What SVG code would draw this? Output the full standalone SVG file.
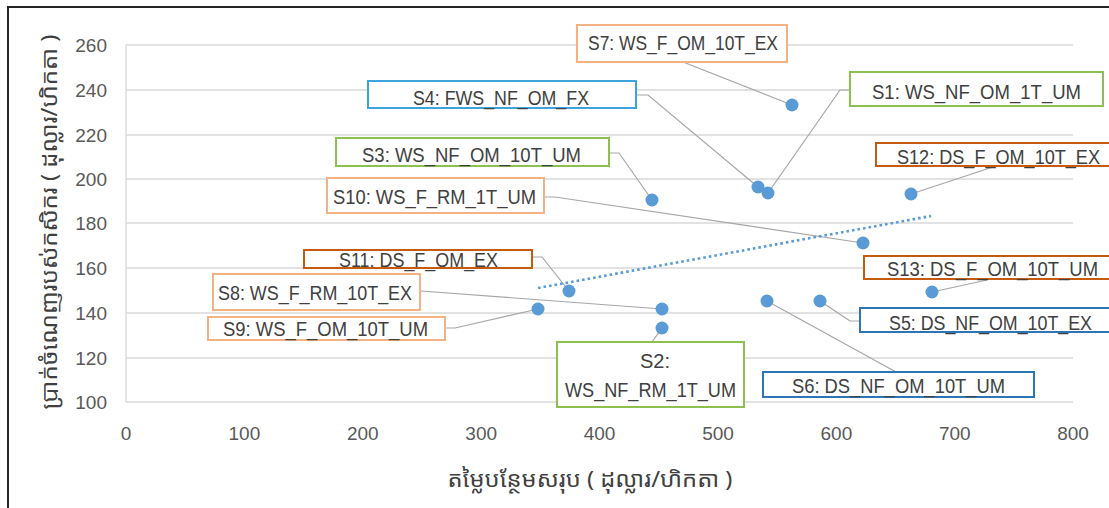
<svg xmlns="http://www.w3.org/2000/svg" width="1109" height="508" viewBox="0 0 1109 508">
<style>
.grid{stroke:#D9D9D9;stroke-width:1.3;fill:none}
.tick{font-family:"Liberation Sans",Arial,sans-serif;font-size:19px;fill:#595959}
.ty{text-anchor:end}
.tx{text-anchor:middle}
.title{font-family:"Noto Sans Khmer","Khmer OS","Noto Sans",sans-serif;font-size:22px;fill:#404040}
.lbl rect{fill:#FFFFFF;stroke-width:2}
.lbl text{font-family:"Liberation Sans",Arial,sans-serif;font-size:20px;fill:#404040}
.lo rect{stroke:#F4B183}
.lb rect{stroke:#3FA3DB}
.gr rect{stroke:#8CC152}
.do rect{stroke:#C55A11}
.bl rect{stroke:#2E75B6}
.lead{stroke:#A6A6A6;stroke-width:1.2;fill:none}
.pt{fill:#5B9BD5}
.trend{stroke:#5B9BD5;stroke-width:2.6;stroke-dasharray:2.6 3;fill:none}
</style>
<rect x="0" y="0" width="1109" height="508" fill="#FFFFFF"/>
<g id="frame">
<path d="M8 508 V7 H1109" stroke="#262626" stroke-width="2" fill="none"/>
</g>
<g id="axes">
<path class="grid" d="M126 45H1073M126 90H1073M126 135H1073M126 179H1073M126 223H1073M126 268H1073M126 313H1073M126 358H1073M126 402H1073M126 45V402"/>
<text class="tick ty" x="107" y="52">260</text>
<text class="tick ty" x="107" y="97">240</text>
<text class="tick ty" x="107" y="142">220</text>
<text class="tick ty" x="107" y="186">200</text>
<text class="tick ty" x="107" y="230">180</text>
<text class="tick ty" x="107" y="275">160</text>
<text class="tick ty" x="107" y="320">140</text>
<text class="tick ty" x="107" y="365">120</text>
<text class="tick ty" x="107" y="409">100</text>
<text class="tick tx" x="126" y="440">0</text>
<text class="tick tx" x="244.4" y="440">100</text>
<text class="tick tx" x="362.8" y="440">200</text>
<text class="tick tx" x="481.2" y="440">300</text>
<text class="tick tx" x="599.6" y="440">400</text>
<text class="tick tx" x="718" y="440">500</text>
<text class="tick tx" x="836.4" y="440">600</text>
<text class="tick tx" x="954.8" y="440">700</text>
<text class="tick tx" x="1073" y="440">800</text>
<text class="title" x="590" y="487" text-anchor="middle" textLength="285" lengthAdjust="spacingAndGlyphs">តម្លៃបន្ថែមសរុប ( ដុល្លារ/ហិកតា )</text>
<text class="title" transform="translate(57 222) rotate(-90)" text-anchor="middle" textLength="375" lengthAdjust="spacingAndGlyphs">ប្រាក់ចំណេញរបស់កសិករ ( ដុល្លារ/ហិកតា )</text>
</g>
<g id="connectors">
<path class="lead" d="M683 62L792 105"/>
<path class="lead" d="M637 95H648L758 187"/>
<path class="lead" d="M850 90H840L768 193"/>
<path class="lead" d="M610 153H619L652 200"/>
<path class="lead" d="M545 197H555L863 243"/>
<path class="lead" d="M993 167L911 194"/>
<path class="lead" d="M533 257H542L569 291"/>
<path class="lead" d="M421 291L662 309"/>
<path class="lead" d="M446 328H455L538 309"/>
<path class="lead" d="M652 342L662 328"/>
<path class="lead" d="M987 280L932 292"/>
<path class="lead" d="M859 321H850L820 301"/>
<path class="lead" d="M896 372L767 301"/>
<path class="trend" d="M538 288L931 216"/>
</g>
<g id="points">
<circle class="pt" cx="792" cy="105" r="6.5"/>
<circle class="pt" cx="758" cy="187" r="6.5"/>
<circle class="pt" cx="768" cy="193" r="6.5"/>
<circle class="pt" cx="652" cy="200" r="6.5"/>
<circle class="pt" cx="911" cy="194" r="6.5"/>
<circle class="pt" cx="863" cy="243" r="6.5"/>
<circle class="pt" cx="569" cy="291" r="6.5"/>
<circle class="pt" cx="662" cy="309" r="6.5"/>
<circle class="pt" cx="538" cy="309" r="6.5"/>
<circle class="pt" cx="662" cy="328" r="6.5"/>
<circle class="pt" cx="932" cy="292" r="6.5"/>
<circle class="pt" cx="820" cy="301" r="6.5"/>
<circle class="pt" cx="767" cy="301" r="6.5"/>
</g>
<g id="S7" class="lbl lo"><rect x="577" y="25" width="210" height="37"/><text x="588" y="50" textLength="190" lengthAdjust="spacingAndGlyphs">S7: WS_F_OM_10T_EX</text></g>
<g id="S4" class="lbl lb"><rect x="368" y="81" width="268" height="27"/><text x="413" y="105" textLength="176" lengthAdjust="spacingAndGlyphs">S4: FWS_NF_OM_FX</text></g>
<g id="S1" class="lbl gr"><rect x="850" y="72" width="253" height="34"/><text x="872" y="99" textLength="209" lengthAdjust="spacingAndGlyphs">S1: WS_NF_OM_1T_UM</text></g>
<g id="S3" class="lbl gr"><rect x="336" y="138" width="273" height="28"/><text x="362" y="162" textLength="219" lengthAdjust="spacingAndGlyphs">S3: WS_NF_OM_10T_UM</text></g>
<g id="S10" class="lbl lo"><rect x="327" y="178" width="217" height="35"/><text x="333" y="204" textLength="203" lengthAdjust="spacingAndGlyphs">S10: WS_F_RM_1T_UM</text></g>
<g id="S12" class="lbl do"><rect x="876" y="143" width="234" height="23"/><text x="897" y="164" textLength="203" lengthAdjust="spacingAndGlyphs">S12: DS_F_OM_10T_EX</text></g>
<g id="S11" class="lbl do"><rect x="304" y="250" width="228" height="18"/><text x="339" y="267" textLength="159" lengthAdjust="spacingAndGlyphs">S11: DS_F_OM_EX</text></g>
<g id="S13" class="lbl do"><rect x="864" y="256" width="246" height="23"/><text x="887" y="276" textLength="211" lengthAdjust="spacingAndGlyphs">S13: DS_F_OM_10T_UM</text></g>
<g id="S8" class="lbl lo"><rect x="213" y="274" width="207" height="36"/><text x="218" y="300" textLength="194" lengthAdjust="spacingAndGlyphs">S8: WS_F_RM_10T_EX</text></g>
<g id="S9" class="lbl lo"><rect x="208" y="317" width="237" height="23"/><text x="223" y="336" textLength="205" lengthAdjust="spacingAndGlyphs">S9: WS_F_OM_10T_UM</text></g>
<g id="S5" class="lbl bl"><rect x="860" y="308" width="250" height="24"/><text x="889" y="330" textLength="203" lengthAdjust="spacingAndGlyphs">S5: DS_NF_OM_10T_EX</text></g>
<g id="S2" class="lbl gr"><rect x="557" y="342" width="187" height="65"/><text x="655" y="368" text-anchor="middle">S2:</text><text x="565" y="397" textLength="171" lengthAdjust="spacingAndGlyphs">WS_NF_RM_1T_UM</text></g>
<g id="S6" class="lbl bl"><rect x="763" y="372" width="271" height="25"/><text x="792" y="393" textLength="213" lengthAdjust="spacingAndGlyphs">S6: DS_NF_OM_10T_UM</text></g>
</svg>
